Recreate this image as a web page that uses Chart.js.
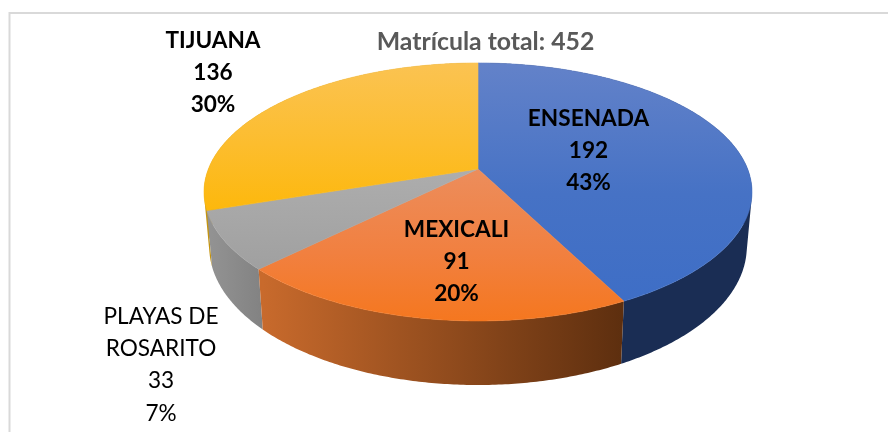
<!DOCTYPE html>
<html>
<head>
<meta charset="utf-8">
<style>html,body{margin:0;padding:0;background:#fff}canvas{display:block}</style>
<script src="https://cdn.jsdelivr.net/npm/chart.js@4"></script>
</head>
<body>
<canvas id="c" width="888" height="432"></canvas>
<script>
const categories = ['ENSENADA', 'MEXICALI', 'PLAYAS DE ROSARITO', 'TIJUANA'];
const values = [192, 91, 33, 136];
const percentLabels = ['43%', '20%', '7%', '30%'];
const titleText = 'Matrícula total: 452';

const labelLines = [['ENSENADA'], ['MEXICALI'], ['PLAYAS DE', 'ROSARITO'], ['TIJUANA']];
const labelCenterX = [588.5, 456.5, 161, 213];
const labelFirstY = [118.5, 229.5, 316.5, 40.5];
const labelBold = [true, true, false, true];
const lineStep = 32.3;

const topColors = [['#6382c9', '#4672c5', '#3e6ec6'], ['#ec8d5c', '#f18040', '#f5771f'], ['#adadad', '#a6a6a6', '#a0a0a0'], ['#fbc352', '#fcbd2e', '#fdb80c']];
const sideColors = [['#1a2d54', '#1a2d54'], ['#c86a2c', '#5e2f0f'], ['#929292', '#828282'], ['#c49410', '#c49410']];

// projective view of the round pie: unit-radius multipliers of the library's arc radius
const TILT = -0.178;
const TOP_FACE = { sx: 269.6 / 169, sy: 124.9 / 169, dy: 0 };
const BOTTOM_FACE = { sx: 264.5 / 169, sy: 134 / 169, dy: 53 / 169 };

function project(arc, face, angle) {
  const u = Math.cos(angle), v = Math.sin(angle);
  const d = 1 + TILT * v, R = arc.outerRadius;
  return { x: arc.x + R * face.sx * u / d, y: arc.y + R * face.dy + R * face.sy * v / d };
}
function rim(arc, face, a0, a1) {
  const n = Math.max(2, Math.ceil((a1 - a0) / 0.01)), pts = [];
  for (let i = 0; i <= n; i++) pts.push(project(arc, face, a0 + (a1 - a0) * i / n));
  return pts;
}
function bounds(pts) {
  const xs = pts.map(p => p.x), ys = pts.map(p => p.y);
  return { l: Math.min(...xs), r: Math.max(...xs), t: Math.min(...ys), b: Math.max(...ys) };
}
function trace(ctx, pts) {
  ctx.beginPath();
  pts.forEach((p, i) => i ? ctx.lineTo(p.x, p.y) : ctx.moveTo(p.x, p.y));
  ctx.closePath();
}
// side wall as one path of equally oriented quads, so overlaps never cancel
function traceBand(ctx, upper, lower) {
  ctx.beginPath();
  for (let i = 0; i + 1 < upper.length; i++) {
    let q = [upper[i], upper[i + 1], lower[i + 1], lower[i]];
    let area = 0;
    q.forEach((p, k) => { const n = q[(k + 1) % 4]; area += p.x * n.y - n.x * p.y; });
    if (area < 0) q = q.reverse();
    q.forEach((p, k) => k ? ctx.lineTo(p.x, p.y) : ctx.moveTo(p.x, p.y));
    ctx.closePath();
  }
}

const pie3d = {
  id: 'pie3d',
  beforeDraw(chart) {
    const ctx = chart.ctx;
    ctx.save();
    ctx.fillStyle = '#fff';
    ctx.fillRect(0, 0, chart.width, chart.height);
    ctx.strokeStyle = '#d9d9d9';
    ctx.lineWidth = 2;
    ctx.beginPath();
    ctx.moveTo(9.5, chart.height);
    ctx.lineTo(9.5, 13);
    ctx.lineTo(chart.width, 13);
    ctx.stroke();
    ctx.restore();
  },
  beforeDatasetsDraw(chart) {
    const ctx = chart.ctx, arcs = chart.getDatasetMeta(0).data;
    ctx.save();
    // side walls, back to front
    const order = arcs.map((a, i) => i).sort((i, j) =>
      Math.sin((arcs[i].startAngle + arcs[i].endAngle) / 2) - Math.sin((arcs[j].startAngle + arcs[j].endAngle) / 2));
    order.forEach(i => {
      const a = arcs[i];
      const upper = rim(a, TOP_FACE, a.startAngle, a.endAngle);
      const lower = rim(a, BOTTOM_FACE, a.startAngle, a.endAngle);
      const front = lower.filter(p => p.y > a.y);
      const b = bounds(front.length ? front : lower);
      const g = ctx.createLinearGradient(b.l, 0, b.r, 0);
      g.addColorStop(0, sideColors[i][0]);
      g.addColorStop(1, sideColors[i][1]);
      traceBand(ctx, upper, lower);
      ctx.fillStyle = g;
      ctx.fill();
    });
    // top faces
    arcs.forEach((a, i) => {
      const pts = [{ x: a.x, y: a.y }].concat(rim(a, TOP_FACE, a.startAngle, a.endAngle));
      const b = bounds(pts);
      const g = ctx.createLinearGradient(0, b.t, 0, b.b);
      g.addColorStop(0, topColors[i][0]);
      g.addColorStop(0.55, topColors[i][1]);
      g.addColorStop(1, topColors[i][2]);
      trace(ctx, pts);
      ctx.fillStyle = g;
      ctx.strokeStyle = g;
      ctx.lineWidth = 0.6;
      ctx.fill();
      ctx.stroke();
    });
    ctx.restore();
    return false;
  },
  afterDraw(chart) {
    const ctx = chart.ctx;
    ctx.save();
    ctx.textAlign = 'center';
    ctx.textBaseline = 'middle';
    ctx.fillStyle = '#595959';
    ctx.font = 'bold 24.8px Lato';
    ctx.fillText(titleText, 485.5, 42.5);
    ctx.fillStyle = '#000';
    categories.forEach((c, i) => {
      ctx.font = (labelBold[i] ? 'bold ' : '') + '22.6px Lato';
      const lines = labelLines[i].concat([String(values[i]), percentLabels[i]]);
      lines.forEach((t, k) => ctx.fillText(t, labelCenterX[i], labelFirstY[i] + k * lineStep));
    });
    ctx.restore();
  }
};

new Chart(document.getElementById('c'), {
  type: 'pie',
  data: {
    labels: categories,
    datasets: [{ data: values, backgroundColor: topColors.map(c => c[2]), borderWidth: 0 }]
  },
  options: {
    responsive: false,
    animation: false,
    layout: { padding: { left: 68, right: 0, top: 0, bottom: 94 } },
    plugins: { legend: { display: false }, tooltip: { enabled: false } }
  },
  plugins: [pie3d]
});
</script>
</body>
</html>
